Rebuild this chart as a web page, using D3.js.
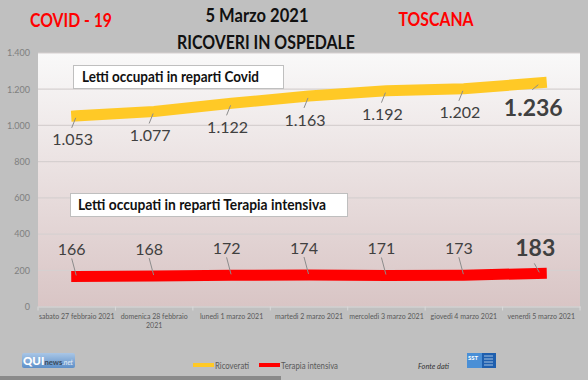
<!DOCTYPE html>
<html><head><meta charset="utf-8">
<script src="https://cdn.jsdelivr.net/npm/d3@7"></script>
<style>html,body{margin:0;padding:0;background:#c0c0c0;}svg{display:block;font-family:Lato,"Open Sans",sans-serif;}</style>
</head><body>
<script>
const categories = ["sabato 27 febbraio 2021","domenica 28 febbraio 2021","lunedì 1 marzo 2021","martedì 2 marzo 2021","mercoledì 3 marzo 2021","giovedì 4 marzo 2021","venerdì 5 marzo 2021"];
const categoryLines = [["sabato 27 febbraio 2021"],["domenica 28 febbraio","2021"],["lunedì 1 marzo 2021"],["martedì 2 marzo 2021"],["mercoledì 3 marzo 2021"],["giovedì 4 marzo 2021"],["venerdì 5 marzo 2021"]];
const ricoverati = [1053,1077,1122,1163,1192,1202,1236];
const terapiaIntensiva = [166,168,172,174,171,173,183];
const yTicks = [0,200,400,600,800,1000,1200,1400];
const seriesNames = ["Ricoverati","Terapia intensiva"];

const W=588,H=380;
const svg=d3.select("body").append("svg").attr("width",W).attr("height",H);
svg.append("rect").attr("width",W).attr("height",H).attr("fill","#c0c0c0");

const defs=svg.append("defs");
const g1=defs.append("linearGradient").attr("id","plotg").attr("x1",0).attr("y1",0).attr("x2",0).attr("y2",1);
g1.append("stop").attr("offset","0%").attr("stop-color","#f9f9f9");
g1.append("stop").attr("offset","100%").attr("stop-color","#d9c5c5");
const g2=defs.append("linearGradient").attr("id","qui").attr("x1",0).attr("y1",0).attr("x2",0).attr("y2",1);
g2.append("stop").attr("offset","0%").attr("stop-color","#a9c6e6");
g2.append("stop").attr("offset","100%").attr("stop-color","#5d8fc8");

const x=d3.scaleBand().domain(categories).range([38,580]);
const y=d3.scaleLinear().domain([0,1400]).range([306.5,53]);
const fmt=d3.formatLocale({decimal:",",thousands:".",grouping:[3],currency:["€",""]}).format(",d");

// plot area
svg.append("rect").attr("x",38).attr("y",53).attr("width",542).attr("height",y(0)-53).attr("fill","url(#plotg)");

// gridlines
svg.append("g").selectAll("line").data(yTicks.filter(d=>d>0)).join("line")
 .attr("x1",38).attr("x2",580).attr("y1",d=>y(d)).attr("y2",d=>y(d))
 .attr("stroke","#d6d0d0").attr("stroke-width",1.2);

// y axis
const ya=svg.append("g").attr("transform","translate(30,0)").call(d3.axisLeft(y).tickValues(yTicks).tickSize(0).tickPadding(0).tickFormat(fmt));
ya.select(".domain").remove();
ya.selectAll("text").attr("fill","#7f7f7f").attr("font-size",9).attr("font-family","Lato,sans-serif");

// x axis
const xa=svg.append("g").attr("transform",`translate(0,${y(0)})`).call(d3.axisBottom(x).tickSize(0).tickFormat(""));
xa.select(".domain").attr("stroke","#d9d9d9");
svg.append("g").selectAll("line").data(d3.range(categories.length+1)).join("line")
 .attr("x1",i=>38+i*x.step()).attr("x2",i=>38+i*x.step()).attr("y1",y(0)).attr("y2",y(0)+4).attr("stroke","#d9d9d9");
const xl=svg.append("g").selectAll("text").data(categories).join("text")
 .attr("x",d=>x(d)+x.bandwidth()/2).attr("y",319).attr("text-anchor","middle")
 .attr("font-size",7).attr("fill","#595959");
xl.each(function(d,i){
  const t=d3.select(this);
  categoryLines[i].forEach((s,j)=>t.append("tspan").attr("x",x(d)+x.bandwidth()/2).attr("dy",j?9:0).text(s));
});

const cx=i=>x(categories[i])+x.bandwidth()/2;
const last=categories.length-1;

// lines
const line=d3.line().x((d,i)=>cx(i)).y(d=>y(d));
svg.append("path").datum(ricoverati).attr("d",line).attr("fill","none").attr("stroke","#ffc926").attr("stroke-width",11).attr("stroke-linecap","square").attr("stroke-linejoin","round");
svg.append("path").datum(terapiaIntensiva).attr("d",line).attr("fill","none").attr("stroke","#ff0000").attr("stroke-width",11).attr("stroke-linecap","square").attr("stroke-linejoin","round");

// leader lines
svg.append("g").selectAll("line").data(ricoverati).join("line")
 .attr("x1",(d,i)=>i===last?cx(i)-3:cx(i)-1).attr("y1",(d,i)=>i===last?y(d)+2:y(d)+2)
 .attr("x2",(d,i)=>i===last?cx(i)-9:cx(i)-5).attr("y2",(d,i)=>i===last?y(d)+7:y(d)+12)
 .attr("stroke","#8c8c8c").attr("stroke-width",1);
svg.append("g").selectAll("line").data(terapiaIntensiva).join("line")
 .attr("x1",(d,i)=>i===last?cx(i)-2:cx(i)-0.5).attr("y1",(d,i)=>i===last?y(d)-1:y(d)-1)
 .attr("x2",(d,i)=>i===last?cx(i)-7:cx(i)-5).attr("y2",(d,i)=>i===last?y(d)-10:y(d)-18)
 .attr("stroke","#8c8c8c").attr("stroke-width",1);

// value labels
svg.append("g").selectAll("text").data(ricoverati).join("text")
 .attr("x",(d,i)=>i===last?cx(i)-8:cx(i)-4).attr("y",(d,i)=>y(d)+(i===last?25:24))
 .attr("dy","0.35em").attr("text-anchor","middle")
 .attr("font-size",(d,i)=>i===last?23:16).attr("font-weight",(d,i)=>i===last?"bold":"normal")
 .attr("fill","#404040").text(d=>fmt(d));
svg.append("g").selectAll("text").data(terapiaIntensiva).join("text")
 .attr("x",(d,i)=>i===last?cx(i)-6:cx(i)-5).attr("y",(d,i)=>y(d)-(i===last?25:27))
 .attr("dy","0.35em").attr("text-anchor","middle")
 .attr("font-size",(d,i)=>i===last?23:16).attr("font-weight",(d,i)=>i===last?"bold":"normal")
 .attr("fill","#404040").text(d=>fmt(d));

// annotation boxes
function box(x0,y0,w,h,tx,ty,tl,txt){
  svg.append("rect").attr("x",x0).attr("y",y0).attr("width",w).attr("height",h).attr("fill","#fff").attr("stroke","#bfbfbf").attr("stroke-width",1);
  svg.append("text").attr("x",tx).attr("y",ty).attr("font-size",15).attr("font-weight","bold").attr("fill","#111")
   .attr("textLength",tl).attr("lengthAdjust","spacingAndGlyphs").text(txt);
}
box(73.5,65.5,210,23,82,82,177,"Letti occupati in reparti Covid");
box(70.5,193.5,277,23,78,210,248,"Letti occupati in reparti Terapia intensiva");

// titles
function title(t,xc,base,size,w,color){
  svg.append("text").attr("x",xc).attr("y",base).attr("text-anchor","middle").attr("font-size",size).attr("font-weight","bold")
   .attr("fill",color).attr("textLength",w).attr("lengthAdjust","spacingAndGlyphs").text(t);
}
title("COVID - 19",71,27,19,82,"#ff0000");
title("5 Marzo 2021",257,22,18,103,"#111");
title("RICOVERI IN OSPEDALE",266,49,19,178,"#111");
title("TOSCANA",436,26,19,75,"#ff0000");

// legend
const leg=svg.append("g");
[[193,214,215,"#ffc926",seriesNames[0],34],[259,280,281,"#ff0000",seriesNames[1],57]].forEach(([a,b,t,c,n,w])=>{
  leg.append("line").attr("x1",a).attr("x2",b).attr("y1",365).attr("y2",365).attr("stroke",c).attr("stroke-width",4);
  leg.append("text").attr("x",t).attr("y",368.5).attr("font-size",9).attr("fill","#595959").attr("textLength",w).attr("lengthAdjust","spacingAndGlyphs").text(n);
});

// source
svg.append("text").attr("x",418).attr("y",369).attr("font-size",8).attr("font-style","italic").attr("fill","#333").attr("textLength",31).attr("lengthAdjust","spacingAndGlyphs").text("Fonte dati");

// QUInews logo
svg.append("rect").attr("x",22).attr("y",353).attr("width",53).attr("height",15).attr("rx",2).attr("fill","url(#qui)");
const lg=svg.append("text").attr("x",23).attr("y",365);
lg.append("tspan").attr("font-size",12).attr("font-weight","900").attr("fill","#fff").text("QUI");
lg.append("tspan").attr("font-size",8).attr("font-weight","bold").attr("fill","#3a4a5a").text("news");
lg.append("tspan").attr("font-size",7).attr("font-style","italic").attr("fill","#e8f0f8").text(".net");
lg.attr("textLength",50).attr("lengthAdjust","spacingAndGlyphs");

// SST logo
svg.append("rect").attr("x",467).attr("y",353).attr("width",15).attr("height",15).attr("fill","#4a8fd6");
svg.append("rect").attr("x",482).attr("y",353).attr("width",14).attr("height",15).attr("fill","#1f5fae");
svg.append("text").attr("x",468).attr("y",360).attr("font-size",6).attr("font-weight","bold").attr("fill","#fff").text("SST");
[356,359,362,365].forEach(v=>svg.append("line").attr("x1",484).attr("x2",493).attr("y1",v).attr("y2",v).attr("stroke","#c8dcf0").attr("stroke-width",0.8));

// bottom bar
svg.append("rect").attr("x",0).attr("y",376).attr("width",281).attr("height",4).attr("fill","#8a8a8a");
</script>
</body></html>
